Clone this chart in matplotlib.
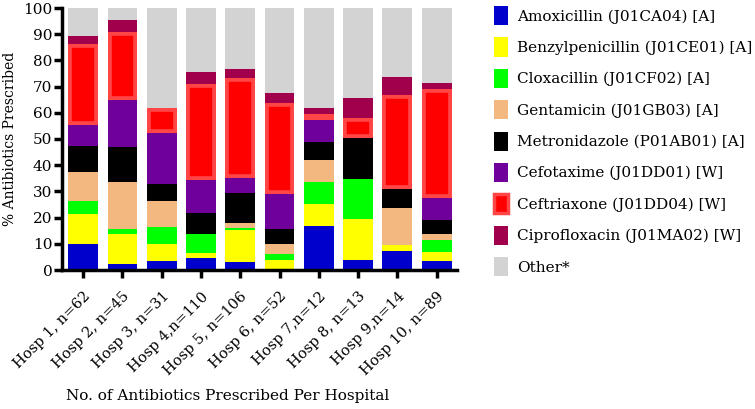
import numpy as np
import matplotlib.pyplot as plt
from matplotlib.patches import Patch

plt.rcParams['font.family'] = ['DejaVu Serif']

hospitals = ['Hosp 1, n=62', 'Hosp 2, n=45', 'Hosp 3, n=31', 'Hosp 4,n=110',
             'Hosp 5, n=106', 'Hosp 6, n=52', 'Hosp 7,n=12', 'Hosp 8, n=13',
             'Hosp 9,n=14', 'Hosp 10, n=89']

drugs = ['Amoxicillin (J01CA04) [A]', 'Benzylpenicillin (J01CE01) [A]',
         'Cloxacillin (J01CF02) [A]', 'Gentamicin (J01GB03) [A]',
         'Metronidazole (P01AB01) [A]', 'Cefotaxime (J01DD01) [W]',
         'Ceftriaxone (J01DD04) [W]', 'Ciprofloxacin (J01MA02) [W]', 'Other*']

# percentage of prescriptions per hospital
amoxicillin = [10.0, 2.4, 3.4, 4.7, 3.1, 0.0, 16.9, 3.8, 7.3, 3.4]
benzylpenicillin = [11.3, 11.3, 6.4, 1.9, 12.2, 3.8, 8.3, 15.6, 2.3, 3.5]
cloxacillin = [4.9, 2.1, 6.7, 7.1, 0.9, 2.2, 8.5, 15.4, 0.0, 4.6]
gentamicin = [11.1, 17.6, 9.7, 0.0, 1.9, 3.8, 8.1, 0.0, 14.0, 2.2]
metronidazole = [9.9, 13.5, 6.5, 8.1, 11.4, 5.8, 7.0, 15.7, 7.3, 5.5]
cefotaxime = [8.0, 17.9, 19.5, 12.7, 5.6, 13.5, 8.3, 0.0, 0.0, 8.3]
ceftriaxone = [30.9, 26.1, 9.6, 36.6, 38.0, 34.6, 2.3, 7.6, 35.8, 41.7]
ciprofloxacin = [3.3, 4.5, 0.0, 4.5, 3.8, 4.0, 2.6, 7.7, 7.1, 2.1]

series = [amoxicillin, benzylpenicillin, cloxacillin, gentamicin, metronidazole,
          cefotaxime, ceftriaxone, ciprofloxacin]
other = [100 - sum(v) for v in zip(*series)]
series.append(other)

colors = ['#0000cc', '#ffff00', '#00ff00', '#f2b880', '#000000',
          '#70009a', '#ff0000', '#a0004c', '#d3d3d3']

fig = plt.figure(figsize=(7.55, 4.09), dpi=100)
ax = fig.add_axes([62 / 755, 1 - 270 / 409, (457 - 62) / 755, (270 - 8) / 409])

x = np.arange(len(hospitals))
bottom = np.zeros(len(hospitals))
for i, (vals, col) in enumerate(zip(series, colors)):
    vals = np.array(vals)
    if i == 6:
        bars = ax.bar(x, vals, 0.76, bottom=bottom, color=col,
                      edgecolor='#ff4545', linewidth=5.5)
        # keep the border inside the bar
        for b in bars:
            b.set_clip_path(b)
    else:
        ax.bar(x, vals, 0.76, bottom=bottom, color=col, linewidth=0)
    bottom += vals

ax.set_xlim(-0.54, 9.52)
ax.set_ylim(0, 100)
ax.set_yticks(range(0, 101, 10))
ax.set_xticks(x)
ax.set_xticklabels(hospitals, rotation=45, ha='right', rotation_mode='anchor',
                   fontsize=10.5)
ax.tick_params(axis='y', labelsize=11, width=2.5, length=6, pad=1)
ax.tick_params(axis='x', width=2.5, length=6, pad=8)
for side in ['top', 'right']:
    ax.spines[side].set_visible(False)
for side in ['left', 'bottom']:
    ax.spines[side].set_linewidth(2.5)

ax.set_ylabel('% Antibiotics Prescribed', fontsize=10, labelpad=4)
ax.set_xlabel('No. of Antibiotics Prescribed Per Hospital', fontsize=11)
ax.xaxis.set_label_coords(0.42, -0.455)

handles = []
for i, (name, col) in enumerate(zip(drugs, colors)):
    if i == 6:
        handles.append(Patch(facecolor=col, edgecolor='#ff4545', linewidth=2.5, label=name))
    else:
        handles.append(Patch(facecolor=col, edgecolor=col, linewidth=0, label=name))
fig.legend(handles=handles, loc='upper left', bbox_to_anchor=(488 / 755, 1.0),
           frameon=False, fontsize=11, handlelength=0.9, handleheight=1.55,
           labelspacing=0.8, handletextpad=0.6, borderaxespad=0.0)

fig.savefig('out.png', dpi=100)
